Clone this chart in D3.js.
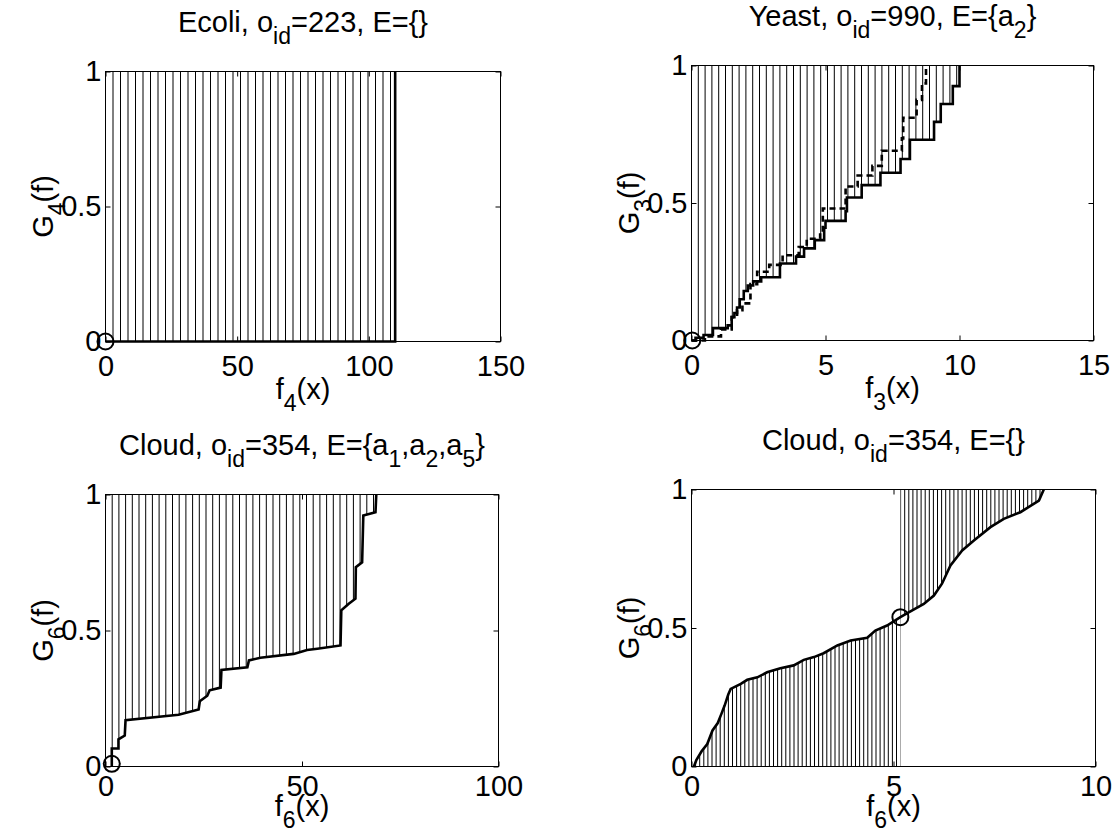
<!DOCTYPE html>
<html>
<head>
<meta charset="utf-8">
<script src="https://cdn.jsdelivr.net/npm/d3@7"></script>
<style>
  body { margin: 0; background: #fff; }
  svg { display: block; }
  text { font-family: "Liberation Sans", Arial, Helvetica, sans-serif; fill: #000; }
</style>
</head>
<body>
<div id="chart"></div>
<script>
// --- Ecoli (top left) ---
const ecoliX = [0, 110, 110];
const ecoliY = [0, 0, 1];
const ecoliMark = [0, 0];
const ecoliTicks = [0, 50, 100, 150];

// --- Yeast (top right): solid G3 and dashed comparison, both step curves ---
const yeastX = [0, 0.15, 0.45, 0.8, 1.35, 1.5, 1.6, 1.7, 1.8, 1.95, 2.1, 2.3, 2.6, 3.3, 3.9, 4.2, 4.6, 4.95, 5.0, 5.75, 5.8, 6.35, 7.05, 7.8, 8.15, 9.05, 9.3, 9.75, 10.0];
const yeastY = [0, 0.01, 0.02, 0.045, 0.055, 0.085, 0.1, 0.12, 0.15, 0.18, 0.2, 0.215, 0.23, 0.28, 0.305, 0.335, 0.365, 0.41, 0.435, 0.47, 0.52, 0.565, 0.61, 0.66, 0.73, 0.795, 0.86, 0.925, 1.0];
const yeastDashX = [0, 0.5, 1.1, 1.5, 1.7, 1.9, 2.2, 2.45, 2.9, 3.4, 4.0, 4.3, 4.8, 4.9, 5.75, 6.2, 6.75, 7.1, 7.85, 7.9, 8.4, 8.6, 8.75];
const yeastDashY = [0, 0.015, 0.04, 0.085, 0.11, 0.135, 0.205, 0.25, 0.275, 0.31, 0.34, 0.37, 0.4, 0.48, 0.56, 0.6, 0.635, 0.69, 0.735, 0.81, 0.875, 0.935, 1.0];
const yeastMark = [0.03, 0];
const yeastTicks = [0, 5, 10, 15];

// --- Cloud, E={a1,a2,a5} (bottom left) ---
const cloudAX = [1.6, 1.6, 3.3, 3.3, 4.9, 5.1, 18.6, 23.7, 24.0, 25.9, 26.5, 29.3, 29.5, 36.1, 36.5, 39.4, 47.9, 51.3, 53.9, 59.8, 60.0, 61.9, 63.6, 63.7, 65.3, 65.6, 68.7, 68.9];
const cloudAY = [0, 0.066, 0.066, 0.1, 0.114, 0.17, 0.19, 0.21, 0.24, 0.26, 0.28, 0.29, 0.355, 0.365, 0.39, 0.40, 0.414, 0.428, 0.433, 0.445, 0.574, 0.598, 0.617, 0.733, 0.751, 0.923, 0.935, 1.0];
const cloudAMark = [1.6, 0.01];
const cloudATicks = [0, 50, 100];

// --- Cloud, E={} (bottom right) ---
const cloudBX = [0.06, 0.12, 0.25, 0.39, 0.52, 0.65, 0.74, 0.82, 0.91, 0.97, 1.22, 1.38, 1.63, 1.87, 2.2, 2.53, 2.78, 3.03, 3.27, 3.61, 3.94, 4.35, 4.55, 4.84, 5.17, 5.42, 5.75, 6.0, 6.2, 6.41, 6.7, 6.99, 7.4, 7.73, 8.14, 8.47, 8.6, 8.72];
const cloudBY = [0, 0.023, 0.055, 0.081, 0.13, 0.157, 0.19, 0.22, 0.26, 0.28, 0.298, 0.313, 0.322, 0.34, 0.355, 0.365, 0.385, 0.395, 0.409, 0.437, 0.455, 0.465, 0.491, 0.509, 0.539, 0.56, 0.587, 0.617, 0.66, 0.726, 0.78, 0.816, 0.864, 0.894, 0.918, 0.948, 0.96, 1.0];
const cloudBMark = [5.17, 0.539];
const cloudBTicks = [0, 5, 10];

const yTicks = [0, 0.5, 1];

// text pieces: [string, isSubscript]
const ecoliTitle = [["Ecoli, o", 0], ["id", 1], ["=223, E={}", 0]];
const yeastTitle = [["Yeast, o", 0], ["id", 1], ["=990, E={a", 0], ["2", 1], ["}", 0]];
const cloudATitle = [["Cloud, o", 0], ["id", 1], ["=354, E={a", 0], ["1", 1], [",a", 0], ["2", 1], [",a", 0], ["5", 1], ["}", 0]];
const cloudBTitle = [["Cloud, o", 0], ["id", 1], ["=354, E={}", 0]];

const fs = 29;
const subSize = 23;
const subShift = 12;

const panels = [
    { box: [105, 71, 395, 270], xDomain: [0, 150], xTicks: ecoliTicks, title: ecoliTitle,
      xLabel: [["f", 0], ["4", 1], ["(x)", 0]], yLabel: [["G", 0], ["4", 1], ["(f)", 0]],
      xLabelDy: 57, tickPad: 14,
      main: d3.zip(ecoliX, ecoliY), curve: d3.curveLinear, dashed: null,
      mark: ecoliMark, split: 0, hatch: 7.5 },
    { box: [691, 65, 402, 275], xDomain: [0, 15], xTicks: yeastTicks, title: yeastTitle,
      xLabel: [["f", 0], ["3", 1], ["(x)", 0]], yLabel: [["G", 0], ["3", 1], ["(f)", 0]],
      xLabelDy: 57, tickPad: 14,
      main: d3.zip(yeastX, yeastY), curve: d3.curveStepAfter, dashed: d3.zip(yeastDashX, yeastDashY),
      mark: yeastMark, split: 0, hatch: 6.8 },
    { box: [105, 494, 393, 272], xDomain: [0, 100], xTicks: cloudATicks, title: cloudATitle,
      xLabel: [["f", 0], ["6", 1], ["(x)", 0]], yLabel: [["G", 0], ["6", 1], ["(f)", 0]],
      xLabelDy: 49, tickPad: 9,
      main: d3.zip(cloudAX, cloudAY), curve: d3.curveLinear, dashed: null,
      mark: cloudAMark, split: 0, hatch: 6.7 },
    { box: [691, 489, 404, 277], xDomain: [0, 10], xTicks: cloudBTicks, title: cloudBTitle,
      xLabel: [["f", 0], ["6", 1], ["(x)", 0]], yLabel: [["G", 0], ["6", 1], ["(f)", 0]],
      xLabelDy: 49, tickPad: 9,
      main: d3.zip(cloudBX, cloudBY), curve: d3.curveLinear, dashed: null,
      mark: cloudBMark, split: cloudBMark[0], hatch: 4.1 }
];

const svg = d3.select("#chart").append("svg")
    .attr("width", 1114)
    .attr("height", 832);

function rich(text, parts) {
    let inSub = false;
    parts.forEach(([s, isSub]) => {
        const t = text.append("tspan").text(s);
        if (isSub) t.attr("font-size", subSize);
        if (isSub && !inSub) t.attr("dy", subShift);
        if (!isSub && inSub) t.attr("dy", -subShift);
        inSub = !!isSub;
    });
}

panels.forEach((p, i) => {
    const [left, top, w, h] = p.box;
    const g = svg.append("g").attr("transform", `translate(${left + 0.5},${top + 0.5})`);

    const x = d3.scaleLinear().domain(p.xDomain).range([0, w]);
    const y = d3.scaleLinear().domain([0, 1]).range([h, 0]);

    // hatched region: under the curve left of the split, above it to the right
    const origin = [p.xDomain[0], 0];
    const below = [origin, ...p.main.filter(d => d[0] <= p.split)];
    const above = [origin, ...p.main].filter(d => d[0] >= p.split);
    const areaAbove = d3.area().curve(p.curve)
        .x(d => x(d[0])).y0(d => y(d[1])).y1(y(1));
    const areaBelow = d3.area().curve(p.curve)
        .x(d => x(d[0])).y0(y(0)).y1(d => y(d[1]));

    const clip = g.append("clipPath").attr("id", `hatch-${i}`);
    clip.append("path").attr("d", areaAbove(above));
    clip.append("path").attr("d", areaBelow(below));

    g.append("g")
        .attr("clip-path", `url(#hatch-${i})`)
        .selectAll("line")
        .data(d3.range(0, w, p.hatch))
        .join("line")
        .attr("x1", d => d).attr("x2", d => d)
        .attr("y1", 0).attr("y2", h)
        .attr("stroke", "#000")
        .attr("stroke-width", 1);

    // axes (ticks point inward, box drawn separately)
    const fmt = d3.format("~g");
    const xAxis = g.append("g").attr("transform", `translate(0,${h})`)
        .call(d3.axisBottom(x).tickValues(p.xTicks).tickFormat(fmt)
            .tickSizeInner(-5).tickSizeOuter(0).tickPadding(p.tickPad));
    const xTop = g.append("g")
        .call(d3.axisTop(x).tickValues(p.xTicks).tickFormat("")
            .tickSizeInner(-5).tickSizeOuter(0));
    const yAxis = g.append("g")
        .call(d3.axisLeft(y).tickValues(yTicks).tickFormat(fmt)
            .tickSizeInner(-5).tickSizeOuter(0).tickPadding(4));
    const yRight = g.append("g").attr("transform", `translate(${w},0)`)
        .call(d3.axisRight(y).tickValues(yTicks).tickFormat("")
            .tickSizeInner(-5).tickSizeOuter(0));
    [xAxis, xTop, yAxis, yRight].forEach(a => {
        a.select(".domain").remove();
        a.selectAll("line").attr("stroke", "#000");
        a.selectAll("text").attr("font-size", fs)
            .attr("font-family", '"Liberation Sans", Arial, sans-serif')
            .attr("fill", "#000");
    });

    g.append("rect")
        .attr("width", w).attr("height", h)
        .attr("fill", "none").attr("stroke", "#000").attr("stroke-width", 1);

    // curves
    const line = d3.line().curve(p.curve).x(d => x(d[0])).y(d => y(d[1]));
    if (p.dashed) {
        g.append("path")
            .attr("d", line(p.dashed))
            .attr("fill", "none").attr("stroke", "#000")
            .attr("stroke-width", 2.6).attr("stroke-dasharray", "6,4");
    }
    g.append("path")
        .attr("d", line(p.main))
        .attr("fill", "none").attr("stroke", "#000")
        .attr("stroke-width", 2.6);

    g.append("circle")
        .attr("cx", x(p.mark[0])).attr("cy", y(p.mark[1]))
        .attr("r", 8)
        .attr("fill", "none").attr("stroke", "#000").attr("stroke-width", 2);

    // titles and labels
    rich(g.append("text").attr("x", w / 2).attr("y", -40)
        .attr("text-anchor", "middle").attr("font-size", fs), p.title);
    rich(g.append("text").attr("x", w / 2).attr("y", h + p.xLabelDy)
        .attr("text-anchor", "middle").attr("font-size", fs), p.xLabel);
    rich(g.append("text")
        .attr("transform", `translate(-53,${h / 2}) rotate(-90)`)
        .attr("text-anchor", "middle").attr("font-size", fs), p.yLabel);
});
</script>
</body>
</html>
